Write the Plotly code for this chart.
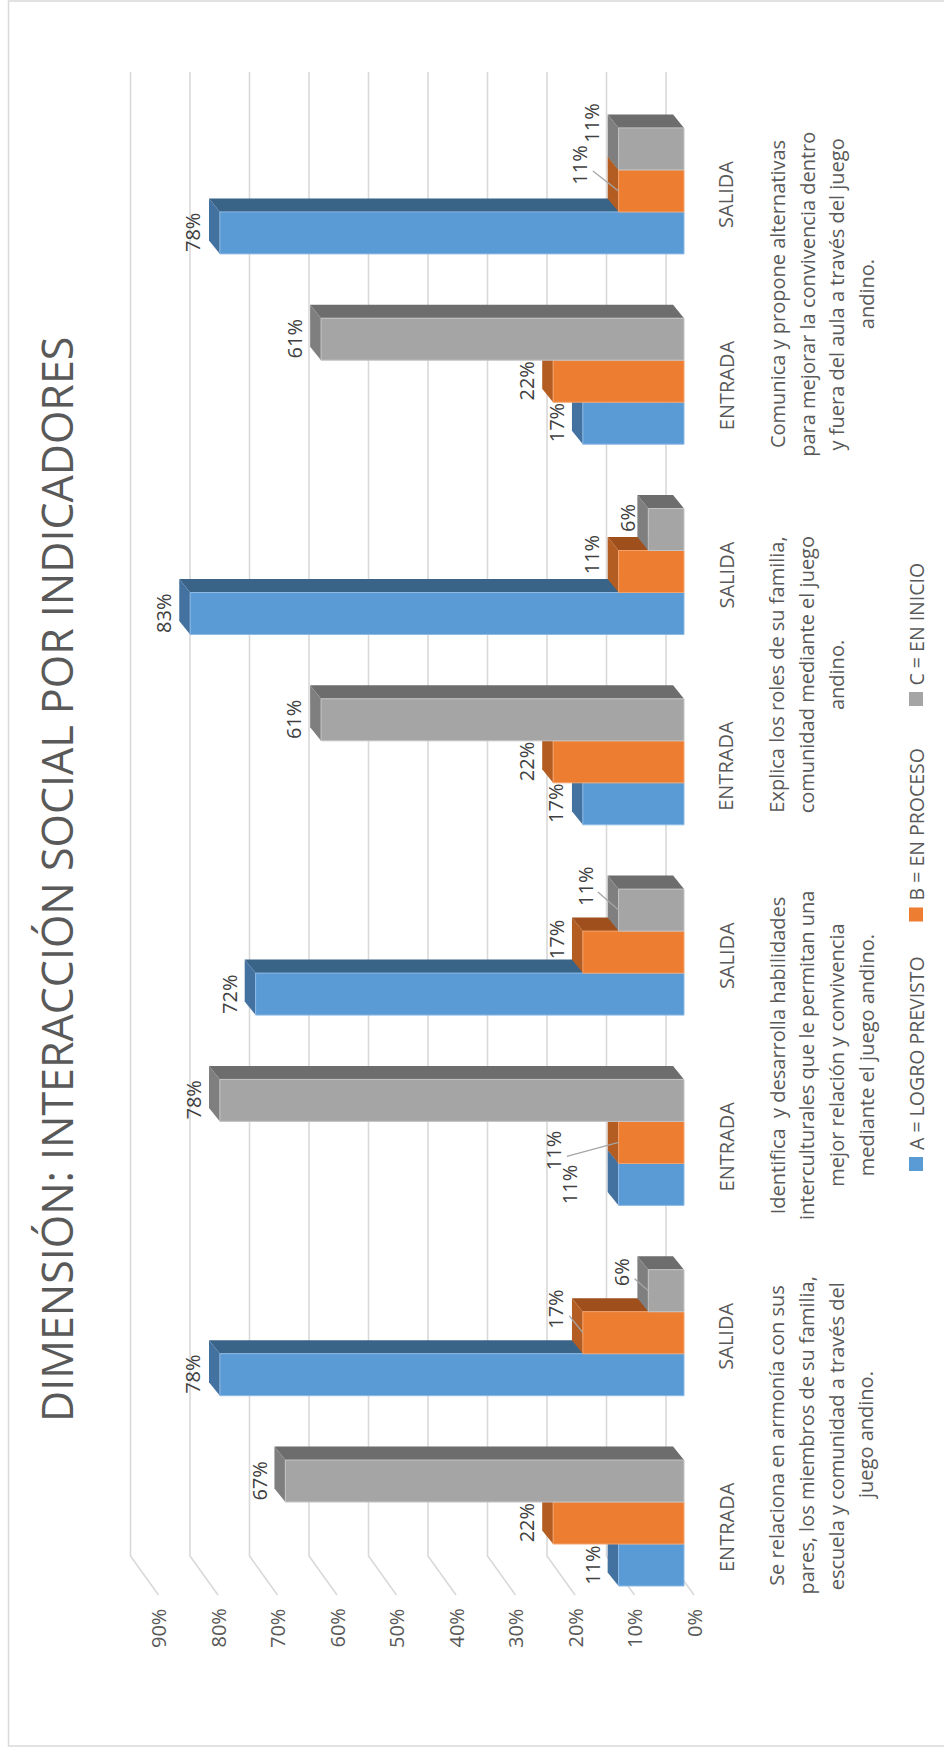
import plotly.graph_objects as go

# ---------------- data ----------------
subcats = ["ENTRADA", "SALIDA", "ENTRADA", "SALIDA", "ENTRADA", "SALIDA", "ENTRADA", "SALIDA"]
groups = [
    ["Se relaciona en armonía con sus", "pares, los miembros de su familia,",
     "escuela y comunidad a través del", "juego andino."],
    ["Identifica  y desarrolla habilidades", "interculturales que le permitan una",
     "mejor relación y convivencia", "mediante el juego andino."],
    ["Explica los roles de su familia,", "comunidad mediante el juego", "andino."],
    ["Comunica y propone alternativas", "para mejorar la convivencia dentro",
     "y fuera del aula a través del juego", "andino."],
]
series_names = ["A = LOGRO PREVISTO", "B = EN PROCESO", "C = EN INICIO"]
vals_A = [11, 78, 11, 72, 17, 83, 17, 78]
vals_B = [22, 17, 11, 17, 22, 11, 22, 11]
vals_C = [67, 6, 78, 11, 61, 6, 61, 11]
tick_vals = [0, 10, 20, 30, 40, 50, 60, 70, 80, 90]
title = "DIMENSIÓN: INTERACCIÓN SOCIAL POR INDICADORES"

# ---------------- styling ----------------
front = ["#5B9BD5", "#ED7D31", "#A5A5A5"]
edge = ["#8DB9E4", "#F2A36E", "#C4C4C4"]
side = ["#3A6388", "#9E4F1C", "#6D6D6D"]
endc = ["#4371A0", "#B35D22", "#7F7F7F"]
TXT = "#595959"
LBL = "#404040"
FONT = "Open Sans"
NARROW = "Liberation Sans Narrow, Arial Narrow, Open Sans"

W, H = 944, 1747
L, R, T, B = 107, 699, 60, 1640
X0PX, SX = 684.0, 5.95      # bar front plane: px of 0% and px per %
Y0PX, SY = 1523.0, 190.3    # px of first category centre, px per category

def px2x(px): return (X0PX - px) / SX
def py2y(py): return (Y0PX - py) / SY
def pxp(px): return (px - L) / (R - L)
def pyp(py): return (B - py) / (B - T)

xr = [px2x(L), px2x(R)]
yr = [py2y(B), py2y(T)]

w = 42 / SY                 # bar thickness in category units
DX = 10.9 / SX              # depth offset (value units)
DY = 13.5 / SY              # depth offset (category units)
BACK = (X0PX - 666.0) / SX  # back-wall shift
FRONT = (X0PX - 694.0) / SX # front floor shift

# manual data-label nudges (px: dx, dy, leader line) keyed by (series, category)
label_nudge = {
    (1, 1): (0, -23, True), (2, 1): (0, -18, True),
    (0, 2): (-22, 0, False), (1, 2): (-38, 8, True),
    (1, 3): (0, -12, False), (2, 3): (-7, -24, True),
    (1, 5): (0, -17, False), (2, 5): (6, -11, False),
    (1, 7): (-12, -26, True), (2, 7): (0, -26, False),
}

ypos = list(range(len(subcats)))
allvals = [vals_A, vals_B, vals_C]

fig = go.Figure()
shapes = []
annotations = []

def ann(**kw):
    d = dict(showarrow=False, textangle=-90, xanchor="center", yanchor="middle")
    d.update(kw)
    annotations.append(d)

# gridlines: back wall + floor slant
y_top = py2y(72)
y_fb = py2y(1556)
y_ff = py2y(1595)
for t in tick_vals:
    shapes.append(dict(type="path", xref="x", yref="y", layer="below",
                       path=f"M {t+BACK},{y_top} L {t+BACK},{y_fb} L {t+FRONT},{y_ff}",
                       line=dict(color="#D9D9D9", width=1.6)))
    ann(xref="x", yref="paper", x=t + FRONT, y=pyp(1607), yanchor="top",
        text=f"{t}%", font=dict(family=FONT, size=20, color=TXT))

# bars + 3D faces
for j, vals in enumerate(allvals):
    fig.add_trace(go.Bar(
        x=vals, y=ypos, orientation="h", width=w, offset=(j - 1.5) * w,
        marker=dict(color=front[j], line=dict(color=edge[j], width=1)),
        name=series_names[j], showlegend=False, hoverinfo="x+name"))
    for i, v in zip(ypos, vals):
        y0 = i + (j - 1.5) * w
        y1 = y0 + w
        yc = y0 + w / 2
        shapes.append(dict(type="path", xref="x", yref="y", layer="below",
                           path=f"M 0,{y1} L {v},{y1} L {v+DX},{y1+DY} L {DX},{y1+DY} Z",
                           fillcolor=side[j], line=dict(width=0)))
        shapes.append(dict(type="path", xref="x", yref="y", layer="below",
                           path=f"M {v},{y0} L {v},{y1} L {v+DX},{y1+DY} L {v+DX},{y0+DY} Z",
                           fillcolor=endc[j], line=dict(width=0)))
        ndx, ndy, lead = label_nudge.get((j, i), (0, 0, False))
        lx = v + 4.5 - ndx / SX
        ly = yc - ndy / SY
        ann(xref="x", yref="y", x=lx, y=ly, text=f"{v}%",
            font=dict(family=FONT, size=20, color=LBL))
        if lead:
            shapes.append(dict(type="line", xref="x", yref="y", layer="above",
                               x0=lx - 2.2, y0=ly - 6 / SY, x1=v, y1=yc,
                               line=dict(color="#A6A6A6", width=1.3)))

# category labels
for i, s in zip(ypos, subcats):
    ann(xref="paper", yref="y", x=pxp(726), y=i - 4 / SY, text=s,
        font=dict(family=FONT, size=20, color=TXT))

# group labels (one annotation per line)
for g, lines in enumerate(groups):
    yc = (2 * g + 0.5) - 8 / SY
    for k, line in enumerate(lines):
        ann(xref="paper", yref="y", x=pxp(777 + 29.7 * k), y=yc, text=line,
            font=dict(family=FONT, size=20, color=TXT))

# title
ann(xref="paper", yref="paper", x=pxp(56), y=pyp(880), text=title,
    font=dict(family=NARROW, size=43, color=TXT))

# legend
leg_sq = [1164, 914.5, 699]
for j in range(3):
    cy = leg_sq[j]
    shapes.append(dict(type="rect", xref="paper", yref="paper",
                       x0=pxp(909), x1=pxp(923), y0=pyp(cy + 7), y1=pyp(cy - 7),
                       fillcolor=front[j], line=dict(width=0)))
    ann(xref="paper", yref="paper", x=pxp(916), y=pyp(cy - 12), yanchor="bottom",
        text=series_names[j], font=dict(family=NARROW, size=19.5, color=TXT))

# chart frame
shapes.append(dict(type="path", xref="paper", yref="paper",
                   path=f"M {pxp(944)},{pyp(1)} L {pxp(8.5)},{pyp(1)} L {pxp(8.5)},{pyp(1746)} L {pxp(944)},{pyp(1746)}",
                   line=dict(color="#D9D9D9", width=1.5)))

fig.update_layout(
    width=W, height=H, autosize=False,
    margin=dict(l=L, r=W - R, t=T, b=H - B, pad=0),
    paper_bgcolor="white", plot_bgcolor="rgba(0,0,0,0)",
    barmode="overlay", showlegend=False,
    xaxis=dict(range=xr, showgrid=False, zeroline=False, showticklabels=False,
               showline=False, fixedrange=True),
    yaxis=dict(range=yr, showgrid=False, zeroline=False, showticklabels=False,
               showline=False, fixedrange=True),
    shapes=shapes, annotations=annotations,
)

fig.write_html("out.html")
